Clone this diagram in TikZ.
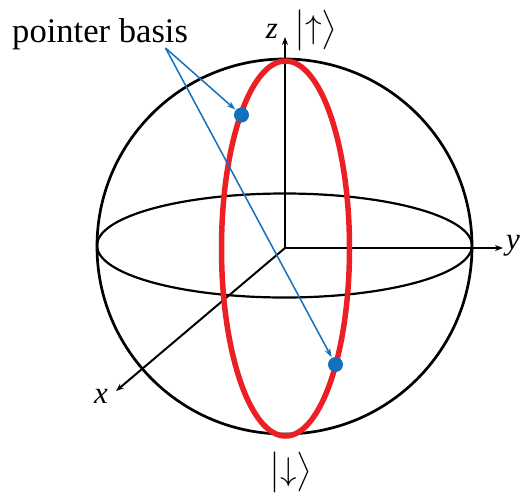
\documentclass[tikz,border=0pt]{standalone}
\usepackage{fontspec}
\usepackage{graphicx}
\setmainfont{Liberation Serif}
\usetikzlibrary{arrows.meta}
\definecolor{myred}{RGB}{236,32,36}
\definecolor{myblue}{RGB}{20,112,190}
\tikzset{
  sphere/.style={line width=2.7pt,black},
  equator/.style={line width=2.2pt,black},
  axis/.style={line width=2pt,black,-{Stealth[length=8pt,width=6pt]}},
  redloop/.style={line width=5.5pt,myred},
  pointer/.style={line width=1.5pt,myblue,-{Stealth[length=9pt,width=6pt]},shorten >=0.5pt},
  dot/.style={circle,fill=myblue,inner sep=0pt,minimum size=15pt},
  axlabel/.style={font=\fontsize{31}{31}\selectfont\itshape,inner sep=0pt},
  ket/.style={inner sep=0pt}
}
\begin{document}
\begin{tikzpicture}[x=1pt,y=-1pt]
\useasboundingbox (0,0) rectangle (524,501);
\coordinate (C) at (284.5,246.5);
\coordinate (O) at (285,248);
\draw[sphere] (C) circle[radius=187.5];
\draw[equator] (284.5,245.5) ellipse[x radius=187.5, y radius=52];
\coordinate (zt) at (285,37);
\coordinate (yt) at (503,248);
\coordinate (xt) at (116,391);
\draw[axis] (O) -- (zt);
\draw[axis] (O) -- (yt);
\draw[axis] (O) -- (xt);
\draw[redloop] (285.5,248.5) ellipse[x radius=64, y radius=187.5];
\node[dot] (d1) at (241.5,115) {};
\node[dot] (d2) at (335.5,364.5) {};
\node[font=\fontsize{34.6}{34.6}\selectfont,inner sep=0pt,anchor=base west] (pb) at (12,42) {pointer basis};
\coordinate (s) at (165.5,48);
\draw[pointer] (s) -- (d1);
\draw[pointer] (s) -- (d2);
\node[axlabel] (zl) at (272,31) {z};
\node[axlabel] (yl) at (513,246) {y};
\node[axlabel] (xl) at (101,396) {x};
\node[ket] (up) at (316,30) {\scalebox{3.3}{$\bigl|\uparrow\bigr\rangle$}};
\node[ket] (down) at (291,472) {\scalebox{3.3}{$\bigl|\downarrow\bigr\rangle$}};
\end{tikzpicture}
\end{document}
